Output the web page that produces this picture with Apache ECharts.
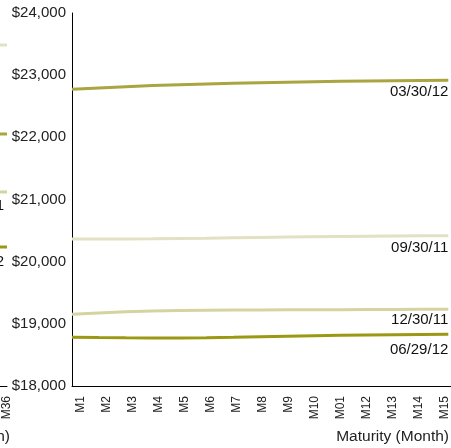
<!DOCTYPE html>
<html>
<head>
<meta charset="utf-8">
<script src="https://cdn.jsdelivr.net/npm/echarts@6/dist/echarts.min.js"></script>
<style>html,body{margin:0;padding:0;background:#fff}#c{width:451px;height:448px}</style>
</head>
<body>
<div id="c"></div>
<script>
// Main panel categories (maturity months, as printed)
const months = ['M1','M2','M3','M4','M5','M6','M7','M8','M9','M10','M01','M12','M13','M14','M15'];
const seriesNames = ['03/30/12','09/30/11','12/30/11','06/29/12'];
const v033012 = [22775,22795,22815,22832,22845,22858,22868,22878,22888,22896,22902,22907,22912,22916,22920];
const v093011 = [20365,20365,20366,20368,20372,20377,20383,20389,20395,20400,20405,20409,20412,20415,20418];
const v123011 = [19155,19175,19195,19208,19215,19220,19222,19224,19225,19226,19227,19229,19231,19233,19235];
const v062912 = [18785,18780,18776,18773,18774,18778,18784,18792,18800,18808,18815,18820,18825,18829,18833];
// Neighbouring panel (only its right edge is visible)
const leftMonths = ['M35','M36'];
const l093011 = [23485,23485];
const l033012 = [22054,22054];
const l123011 = [21121,21121];
const l062912 = [20236,20236];
const yMin = 18000, yMax = 24000, yStep = 1000;

const colors = {'03/30/12':'#aaa540','09/30/11':'#e2e1c3','12/30/11':'#d5d3a2','06/29/12':'#9b9914'};
const pairs = (arr, start) => arr.map((v,i)=>[start+i, v]);
const FONT = 'Liberation Sans, Arial, sans-serif';

function mainSeries(name, arr, dy){
  return {
    name, type:'line', xAxisIndex:0, yAxisIndex:0, data: pairs(arr,1),
    showSymbol:false, lineStyle:{width:3,color:colors[name]}, itemStyle:{color:colors[name]},
    endLabel:{show:true, formatter:name, align:'right', verticalAlign:'middle', distance:0, offset:[0,dy],
      color:'#111', fontSize:15, fontFamily:FONT},
    silent:true, animation:false
  };
}
function leftSeries(name, arr, showLabel, dy){
  return {
    name:name+' ', type:'line', xAxisIndex:2, yAxisIndex:1, data: pairs(arr,35),
    showSymbol:false, clip:false, lineStyle:{width:3,color:colors[name]}, itemStyle:{color:colors[name]},
    endLabel:{show:showLabel, formatter:name, align:'right', verticalAlign:'middle', distance:0, offset:[-3,dy],
      color:'#111', fontSize:15, fontFamily:FONT},
    silent:true, animation:false
  };
}

const chart = echarts.init(document.getElementById('c'), null, {renderer:'canvas'});
chart.setOption({
  backgroundColor:'#fff',
  animation:false,
  grid:[
    {left:72, right:0, top:13, bottom:62, outerBoundsMode:'none', containLabel:false},
    {left:-20, width:27, top:13, bottom:62, outerBoundsMode:'none', containLabel:false}
  ],
  xAxis:[
    // data axis of main panel
    {type:'value', gridIndex:0, min:1, max:15.1,
     axisLine:{show:true, lineStyle:{color:'#000', width:1}}, axisTick:{show:false}, splitLine:{show:false},
     axisLabel:{show:false},
     name:'Maturity (Month)', nameLocation:'end', nameGap:0,
     nameTextStyle:{align:'right', verticalAlign:'top', padding:[43,2,0,0], fontSize:15.5, color:'#222', fontFamily:FONT}
    },
    // label axis of main panel (labels sit slightly right of the data points, as in the original)
    {type:'value', gridIndex:0, position:'bottom', min:0.654, max:15.23,
     axisLine:{show:false}, axisTick:{show:false}, splitLine:{show:false},
     axisLabel:{rotate:90, margin:10, fontSize:12, color:'#222', fontFamily:FONT,
       customValues: months.map((m,i)=>i+1),
       formatter:v=> months[Math.round(v)-1] || ''}
    },
    {type:'value', gridIndex:1, min:34, max:36, interval:1,
     axisLine:{show:true, lineStyle:{color:'#000', width:1}}, axisTick:{show:false}, splitLine:{show:false},
     axisLabel:{rotate:90, margin:10, fontSize:12, color:'#222', fontFamily:FONT,
       formatter:v=> v===36 ? leftMonths[1] : ''},
     name:'Maturity (Month)', nameLocation:'end', nameGap:0,
     nameTextStyle:{align:'right', verticalAlign:'top', padding:[43,-3,0,0], fontSize:15.5, color:'#222', fontFamily:FONT}
    }
  ],
  yAxis:[
    {type:'value', gridIndex:0, min:yMin, max:yMax, interval:yStep,
     axisLine:{show:true, lineStyle:{color:'#000', width:1}}, axisTick:{show:false}, splitLine:{show:false},
     axisLabel:{margin:6, fontSize:15, color:'#222', fontFamily:FONT,
       formatter:v=>'$'+v.toLocaleString('en-US')}
    },
    {type:'value', gridIndex:1, min:yMin, max:yMax, interval:yStep, show:false}
  ],
  series:[
    mainSeries('03/30/12', v033012, 12),
    mainSeries('09/30/11', v093011, 12),
    mainSeries('12/30/11', v123011, 11),
    mainSeries('06/29/12', v062912, 16),
    leftSeries('09/30/11', l093011, false, 0),
    leftSeries('03/30/12', l033012, false, 0),
    leftSeries('12/30/11', l123011, true, 14),
    leftSeries('06/29/12', l062912, true, 15)
  ]
});
</script>
</body>
</html>
